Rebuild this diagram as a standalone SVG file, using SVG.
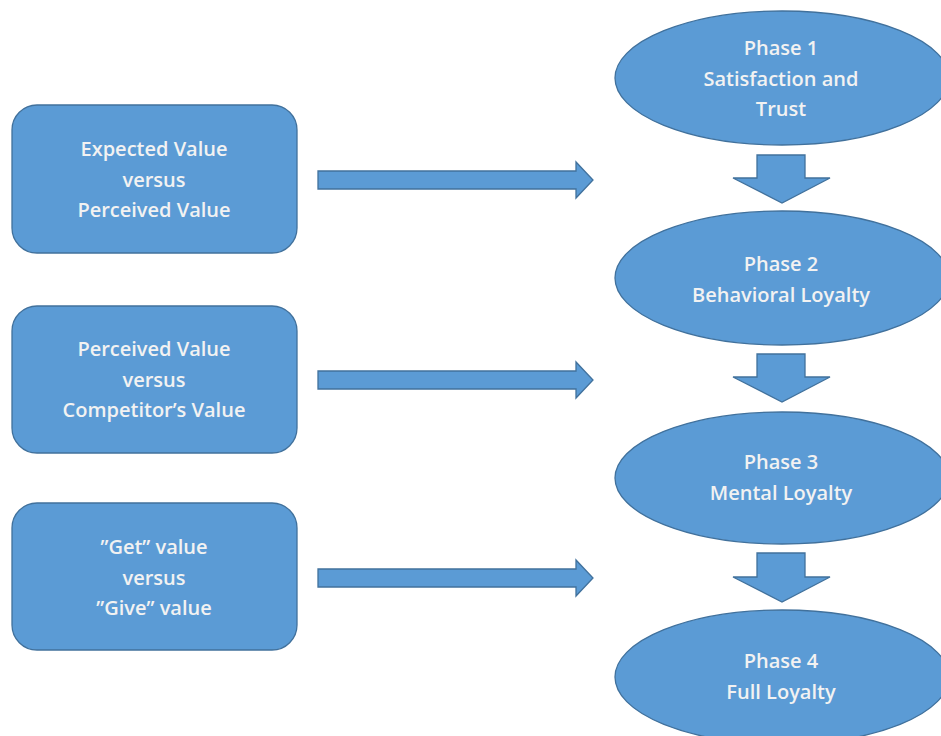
<svg xmlns="http://www.w3.org/2000/svg" width="941" height="736" viewBox="0 0 941 736">
<style>
.shape{fill:#5b9bd5;stroke:#41719c;stroke-width:1.3}
.t{font-family:"Open Sans","Liberation Sans",sans-serif;font-size:20px;font-weight:600;fill:#f2f2f2;text-anchor:middle}
</style>
<rect width="941" height="736" fill="#ffffff"/>
<g id="connectors">
<path class="shape" d="M318 171H576V162L593 180L576 198V189H318Z"/>
<path class="shape" d="M318 371H576V362L593 380L576 398V389H318Z"/>
<path class="shape" d="M318 569H576V560L593 578L576 596V587H318Z"/>
<path class="shape" d="M757 155H805V178H830L782 203L733 178H757Z"/>
<path class="shape" d="M757 354H805V377H830L782 402L733 377H757Z"/>
<path class="shape" d="M757 553H805V577H830L782 602L733 577H757Z"/>
</g>
<g id="box1"><rect class="shape" x="12" y="105" width="285" height="148" rx="25"/>
<text class="t" x="154" y="156">Expected Value</text><text class="t" x="154" y="187">versus</text><text class="t" x="154" y="217">Perceived Value</text></g>
<g id="box2"><rect class="shape" x="12" y="306" width="285" height="147" rx="25"/>
<text class="t" x="154" y="356">Perceived Value</text><text class="t" x="154" y="387">versus</text><text class="t" x="154" y="417">Competitor’s Value</text></g>
<g id="box3"><rect class="shape" x="12" y="503" width="285" height="147" rx="25"/>
<text class="t" x="154" y="554">”Get” value</text><text class="t" x="154" y="585">versus</text><text class="t" x="154" y="615">”Give” value</text></g>
<g id="phase1"><ellipse class="shape" cx="782" cy="78" rx="167" ry="67"/>
<text class="t" x="781" y="55">Phase 1</text><text class="t" x="781" y="86">Satisfaction and</text><text class="t" x="781" y="116">Trust</text></g>
<g id="phase2"><ellipse class="shape" cx="782" cy="278" rx="167" ry="67"/>
<text class="t" x="781" y="271">Phase 2</text><text class="t" x="781" y="302">Behavioral Loyalty</text></g>
<g id="phase3"><ellipse class="shape" cx="782" cy="478" rx="167" ry="66"/>
<text class="t" x="781" y="469">Phase 3</text><text class="t" x="781" y="500">Mental Loyalty</text></g>
<g id="phase4"><ellipse class="shape" cx="782" cy="677" rx="167" ry="67"/>
<text class="t" x="781" y="668">Phase 4</text><text class="t" x="781" y="699">Full Loyalty</text></g>
</svg>
